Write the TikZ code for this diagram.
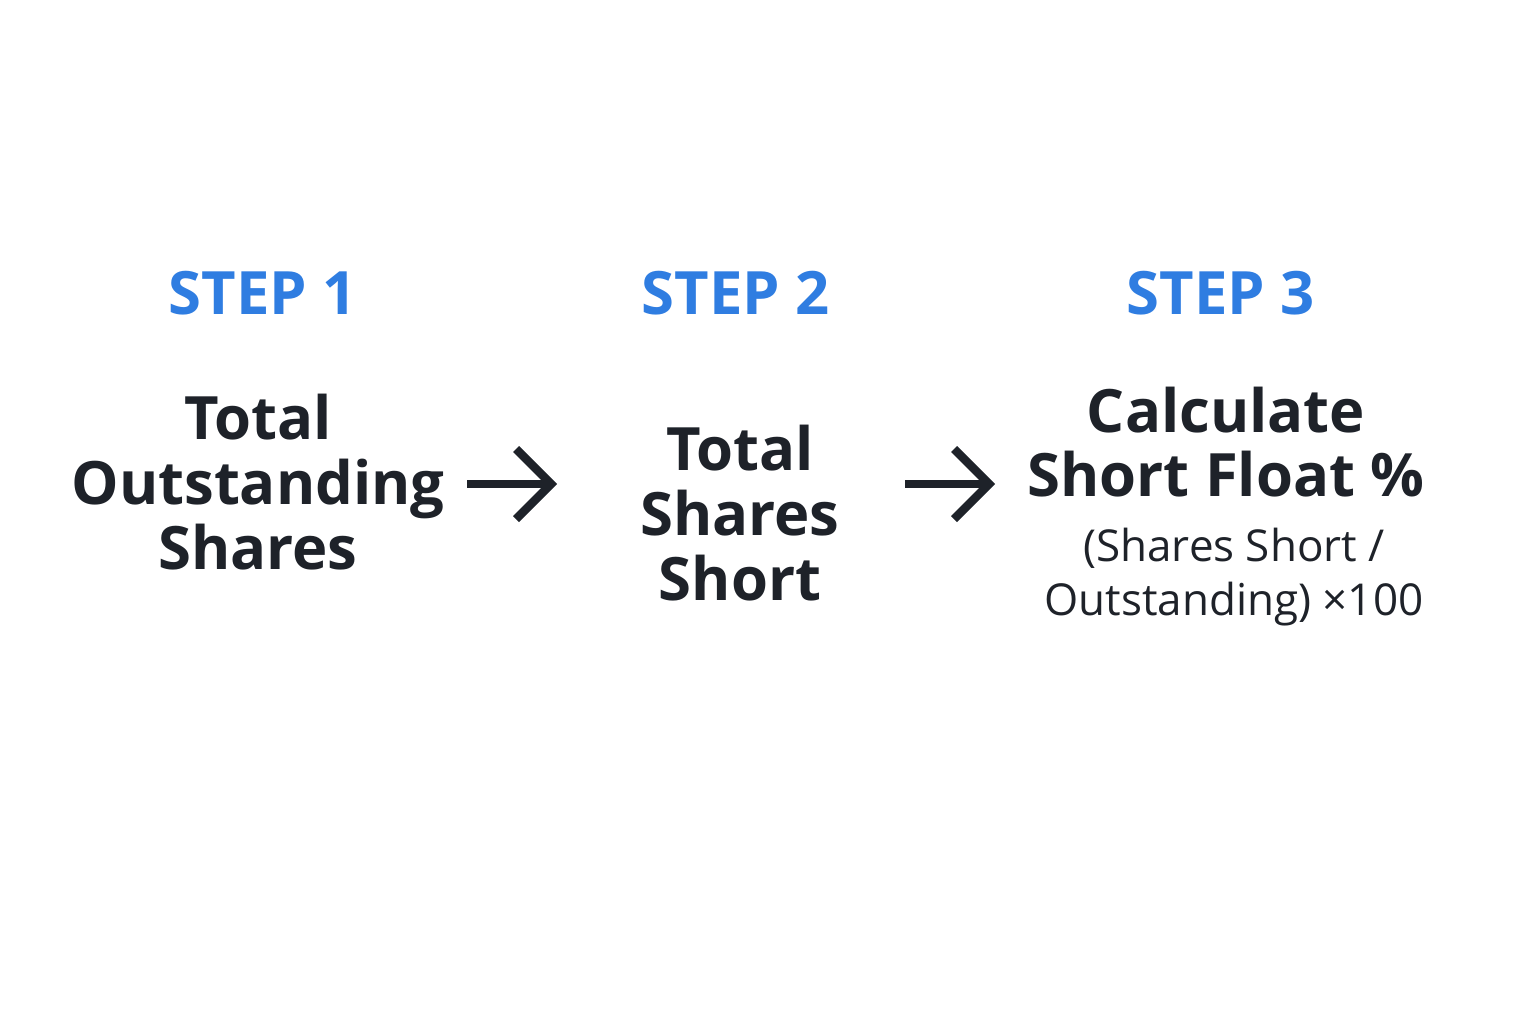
\documentclass[tikz,border=0pt]{standalone}
\usepackage{fontspec}
\setmainfont{Open Sans}
\usetikzlibrary{arrows.meta, positioning}

\begin{document}
\begin{tikzpicture}[
    x=0.01cm, y=-0.01cm,
    every node/.style={align=center, text=ink},
    steplabel/.style={text=stepblue, font=\fontsize{17}{20}\selectfont\bfseries},
    bodytext/.style={font=\fontsize{17}{18.4}\selectfont\bfseries},
    smalltext/.style={font=\fontsize{12.5}{15.2}\selectfont},
    flow/.style={draw=ink, line width=2.4pt, -{Straight Barb[length=3.5mm, width=7mm, line width=2.4pt]}}
]
    \definecolor{stepblue}{HTML}{2F7DE1}
    \definecolor{ink}{HTML}{1E2229}
    \useasboundingbox (0,0) rectangle (1536,1024);

    % step headers
    \node[steplabel] (stepone) at (263,293) {STEP 1};
    \node[steplabel] (steptwo) at (736,293) {STEP 2};
    \node[steplabel] (stepthree) at (1221,293) {STEP 3};

    % step contents
    \node[bodytext] (outstanding) at (258,482) {Total\\Outstanding\\Shares};
    \node[bodytext] (short) at (740,513) {Total\\Shares\\Short};
    \node[bodytext] (calc) at (1226,442) {Calculate\\Short Float \%};
    \node[smalltext] (formula) at (1234,577) {(Shares Short /\\Outstanding) ×100};

    % arrows
    \coordinate (aone) at (467,484);
    \coordinate (bone) at (557,484);
    \coordinate (atwo) at (905,484);
    \coordinate (btwo) at (995,484);
    \draw[flow] (aone) -- (bone);
    \draw[flow] (atwo) -- (btwo);
\end{tikzpicture}
\end{document}
